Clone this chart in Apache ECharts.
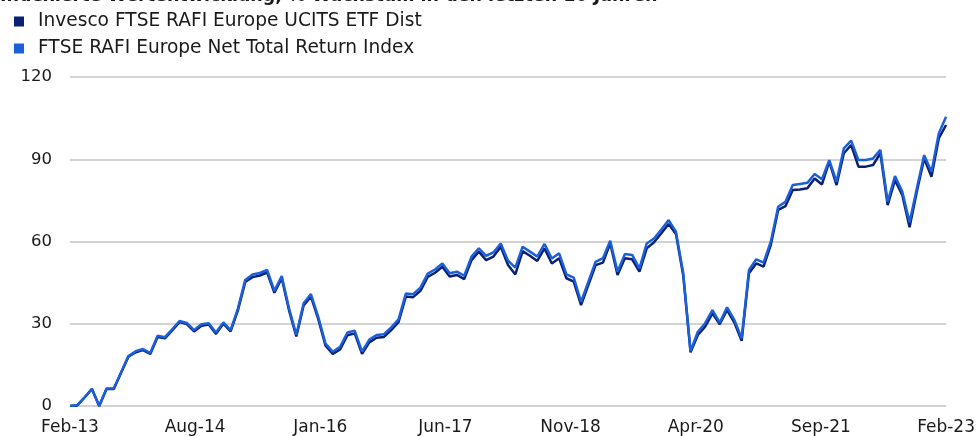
<!DOCTYPE html>
<html>
<head>
<meta charset="utf-8">
<script src="https://cdn.jsdelivr.net/npm/echarts@6/dist/echarts.min.js"></script>
<style>
	html, body { margin: 0; padding: 0; background: #fff; }
	#chart { width: 978px; height: 436px; }
</style>
</head>
<body>
<div id="chart"></div>
<script>
//data
var titleText = 'Indexierte Wertentwicklung, % Wachstum in den letzten 10 Jahren';
var seriesNames = ['Invesco FTSE RAFI Europe UCITS ETF Dist', 'FTSE RAFI Europe Net Total Return Index'];
var tickLabels = ['Feb-13', 'Aug-14', 'Jan-16', 'Jun-17', 'Nov-18', 'Apr-20', 'Sep-21', 'Feb-23'];
var yTicks = [0, 30, 60, 90, 120];

//monthly categories Feb-13 .. Feb-23
var monthNames = ['Jan','Feb','Mar','Apr','May','Jun','Jul','Aug','Sep','Oct','Nov','Dec'];
var months = [];
for (var k = 0; k <= 120; k++) {
	var m = (1 + k) % 12;
	var yr = 13 + Math.floor((1 + k) / 12);
	months.push(monthNames[m] + '-' + yr);
}

var etfValues = [
	0, 0.2, 3.1, 6.2, 0, 6.2, 6.2, 12.1, 18, 19.6,
	20.4, 19, 25.2, 24.7, 27.6, 30.6, 29.9, 27.2, 29.3, 29.7,
	26.3, 30, 27.2, 34.9, 45.2, 47, 47.6, 48.7, 41.3, 46.6,
	34.9, 25.4, 36.7, 39.9, 31.8, 22, 19, 20.6, 25.8, 26.5,
	19, 23.2, 24.9, 25.2, 27.7, 30.6, 39.9, 39.7, 42, 47.1,
	48.6, 50.8, 47.2, 47.8, 46.3, 53.2, 56.3, 53.2, 54.5, 58.1,
	51.4, 48, 56.5, 54.8, 52.9, 57.5, 52, 53.9, 46.6, 45.4,
	36.8, 44.1, 51.4, 52.3, 59.3, 47.8, 53.9, 53.5, 49, 57.5,
	59.7, 63, 66.4, 62.7, 47.6, 19.6, 25.9, 28.9, 33.8, 29.8,
	35, 30.4, 23.8, 48.4, 52, 50.8, 58.8, 71.5, 72.9, 78.8,
	79, 79.4, 83, 80.8, 89.1, 80.6, 92.2, 95.2, 87.3, 87.3,
	87.9, 92.2, 73.3, 82.4, 77, 65.2, 78.2, 90.3, 83.6, 97.6,
	102.5
];
var indexValues = [
	0, 0.3, 3.2, 6.3, 0, 6.4, 6.4, 12.3, 18.2, 20,
	20.8, 19.3, 25.6, 25.1, 28, 31, 30.3, 27.7, 29.8, 30.2,
	26.8, 30.5, 27.7, 35.5, 46, 48, 48.5, 49.6, 42, 47.4,
	35.6, 26, 37.5, 40.8, 32.5, 22.8, 19.8, 21.6, 26.8, 27.5,
	19.8, 24.2, 25.9, 26.2, 28.7, 31.6, 41, 40.8, 43.2, 48.3,
	49.8, 52, 48.4, 49, 47.5, 54.5, 57.5, 54.8, 56, 59.3,
	53, 50.5, 58.1, 56.3, 54.5, 59.1, 53.8, 55.7, 48, 46.8,
	38, 45.3, 52.6, 53.9, 60.3, 49, 55.4, 55.1, 50.2, 59.3,
	61.1, 64.4, 67.8, 63.6, 48.4, 20, 27.1, 30.2, 35, 30.4,
	36, 31.4, 24.7, 49.6, 53.5, 52.3, 60, 72.7, 74.5, 80.6,
	81, 81.4, 84.6, 82.7, 89.7, 81.8, 94, 96.8, 89.7, 89.7,
	90.3, 93.4, 74.5, 83.9, 78.2, 67, 79.4, 91.5, 85.4, 99.4,
	105.5
];

var FONT = '"DejaVu Sans", Verdana, sans-serif';
var TEXTCOLOR = '#1a1a1a';
var colors = ['#0a2175', '#1b5fd9'];

var chart = echarts.init(document.getElementById('chart'), null, {renderer: 'canvas'});
chart.setOption({
	animation: false,
	color: colors,
	title: {
		text: titleText,
		left: 0,
		top: -13,
		padding: 0,
		textStyle: {
			fontFamily: FONT,
			fontSize: 17.5,
			fontWeight: 'bold',
			color: TEXTCOLOR
		}
	},
	legend: {
		orient: 'vertical',
		left: 14,
		top: 12,
		padding: 0,
		itemGap: 8,
		itemWidth: 10,
		itemHeight: 10,
		icon: 'rect',
		data: seriesNames,
		textStyle: {
			fontFamily: FONT,
			fontSize: 18.6,
			color: TEXTCOLOR,
			padding: [0, 0, 0, 9]
		}
	},
	grid: {
		left: 70,
		right: 27,
		top: 77,
		bottom: 30,
		containLabel: false
	},
	xAxis: [{
		type: 'category',
		data: months,
		boundaryGap: false,
		position: 'bottom',
		axisLine: {show: false},
		axisTick: {show: false},
		axisLabel: {show: false},
		splitLine: {show: false}
	}, {
		type: 'category',
		data: tickLabels,
		boundaryGap: false,
		position: 'bottom',
		axisLine: {show: false},
		axisTick: {show: false},
		splitLine: {show: false},
		axisLabel: {
			show: true,
			interval: 0,
			margin: 13,
			fontFamily: FONT,
			fontSize: 17,
			color: TEXTCOLOR
		}
	}],
	yAxis: {
		type: 'value',
		min: yTicks[0],
		max: yTicks[yTicks.length - 1],
		interval: 30,
		axisLine: {show: false},
		axisTick: {show: false},
		splitLine: {
			show: true,
			lineStyle: {color: '#c4c4c4', width: 1.5}
		},
		axisLabel: {
			margin: 18,
			fontFamily: FONT,
			fontSize: 16.5,
			color: TEXTCOLOR
		}
	},
	series: [{
		name: seriesNames[0],
		type: 'line',
		xAxisIndex: 0,
		data: etfValues,
		symbol: 'none',
		lineStyle: {width: 2.5, color: colors[0]}
	}, {
		name: seriesNames[1],
		type: 'line',
		xAxisIndex: 0,
		data: indexValues,
		symbol: 'none',
		lineStyle: {width: 2.5, color: colors[1]}
	}]
});
</script>
</body>
</html>
